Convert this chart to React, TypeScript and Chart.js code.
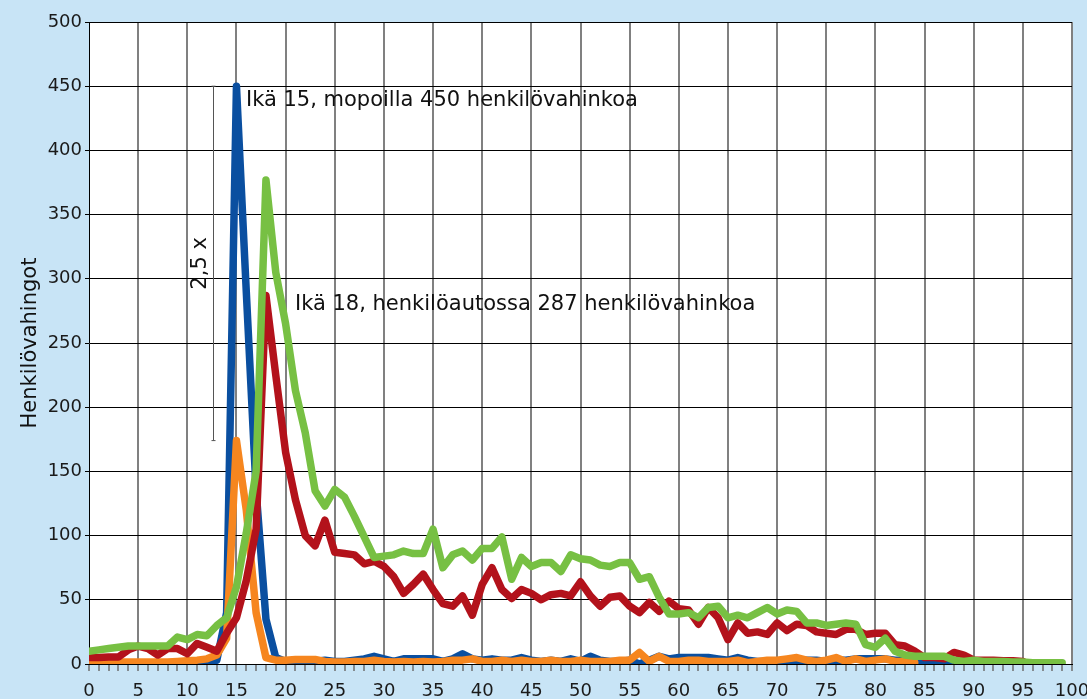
import React, { useEffect, useRef } from "react";
import { Chart, registerables } from "chart.js";

Chart.register(...registerables);

// Age categories (x values)
const ages = [
  0, 1, 2, 3, 4, 5, 6, 7, 8, 9, 10, 11, 12, 13, 14, 15, 16, 17, 18, 19,
  20, 21, 22, 23, 24, 25, 26, 27, 28, 29, 30, 31, 32, 33, 34, 35, 36, 37, 38, 39,
  40, 41, 42, 43, 44, 45, 46, 47, 48, 49, 50, 51, 52, 53, 54, 55, 56, 57, 58, 59,
  60, 61, 62, 63, 64, 65, 66, 67, 68, 69, 70, 71, 72, 73, 74, 75, 76, 77, 78, 79,
  80, 81, 82, 83, 84, 85, 86, 87, 88, 89, 90, 91, 92, 93, 94, 95, 96, 97, 98, 99,
];

// Series values (henkilövahingot by age)
const mopo = [
  0, 0, 0, 0, 0, 0, 0, 0, 0, 0, 0, 0, 0, 3, 40, 450, 290, 135, 35, 5,
  2, 2, 2, 2, 3, 2, 2, 3, 4, 6, 4, 2, 4, 4, 4, 4, 2, 4, 8, 4,
  3, 4, 3, 3, 5, 3, 2, 3, 2, 4, 2, 6, 3, 2, 2, 3, 0, 3, 6, 4,
  5, 5, 5, 5, 4, 3, 5, 3, 2, 2, 2, 3, 2, 3, 3, 2, 3, 3, 4, 4,
  4, 4, 3, 3, 3, 3, 2, 2, 1, 1, 1, null, null, null, null, null, null, null, null, null,
];

const kevytMp = [
  1.5, 1.5, 1.5, 1.5, 1.5, 1.5, 1.5, 1.5, 1.5, 2, 2.5, 3, 4, 7, 20, 174, 120, 40, 5, 3,
  3, 3.5, 3.5, 3.5, 2, 1.5, 1.5, 2, 2, 3, 2, 1.5, 2, 1.5, 2, 1.5, 2, 3, 3, 4,
  2, 2, 3, 2, 3, 2, 2, 3, 2, 2, 3, 2, 2, 2, 3, 3, 9, 2, 6, 2,
  2, 3, 3, 2, 2, 2, 3, 1, 2, 3, 3, 4, 5, 3, 2, 3, 5, 2, 4, 2,
  3, 4, 2, 2, 1, null, null, null, null, null, null, null, null, null, null, null, null, null, null, null,
];

const henkiloauto = [
  5, 5, 5.5, 5.5, 11, 14, 12, 7, 12, 12, 8, 16, 13, 10, 24, 36, 65, 105, 287, 225,
  165, 128, 100, 92, 112, 87, 86, 85, 78, 80, 76, 68, 55, 62, 70, 58, 47, 45, 53, 38,
  62, 75, 58, 51, 58, 55, 50, 54, 55, 53, 64, 53, 45, 52, 53, 45, 40, 48, 41, 49,
  43, 42, 31, 44, 36, 19, 32, 24, 25, 23, 32, 26, 31, 30, 25, 24, 23, 27, 27, 23,
  24, 24, 15, 14, 10, 5, 5, 4, 9, 7, 3, 3, 3, 2.5, 2.5, 2, null, null, null, null,
];

const kaikki = [
  10, 11, 12, 13, 14, 14, 14, 14, 14, 21, 19, 23, 22, 30, 36, 60, 102, 150, 377, 305,
  265, 213, 180, 135, 123, 136, 130, 115, 99, 83, 84, 85, 88, 86, 86, 105, 75, 85, 88, 81,
  90, 90, 99, 66, 83, 76, 79, 79, 72, 85, 82, 81, 77, 76, 79, 79, 66, 68, 52, 39,
  39, 40, 36, 44, 45, 36, 38, 36, 40, 44, 39, 42, 41, 32, 32, 30, 31, 32, 31, 15,
  13, 20, 10, 7, 6, 6, 6, 6, 3, 2, 3, 2, 2, 2, 1.5, 1.5, 1, 1, 1, 1,
];

const yTitle = "Henkilövahingot";
const note1 = "Ikä 15, mopoilla 450 henkilövahinkoa";
const note2 = "Ikä 18, henkilöautossa 287 henkilövahinkoa";
const ratioText = "2,5 x";

const FONT = "'DejaVu Sans', Verdana, sans-serif";

const bgPlugin = {
  id: "bgPlugin",
  beforeDraw(chart: any) {
    const { ctx, chartArea: a, width, height } = chart;
    ctx.save();
    ctx.fillStyle = "#c8e4f6";
    ctx.fillRect(0, 0, width, height);
    ctx.fillStyle = "#ffffff";
    ctx.fillRect(a.left, a.top, a.right - a.left, a.bottom - a.top);
    ctx.restore();
  },
};

const notesPlugin = {
  id: "notesPlugin",
  afterDraw(chart: any) {
    const { ctx } = chart;
    const xs = chart.scales.x;
    const ys = chart.scales.y;
    ctx.save();
    // y-axis title
    ctx.fillStyle = "#111";
    ctx.font = `21px ${FONT}`;
    ctx.textAlign = "center";
    ctx.textBaseline = "middle";
    ctx.save();
    ctx.translate(31, (chart.chartArea.top + chart.chartArea.bottom) / 2);
    ctx.rotate(-Math.PI / 2);
    ctx.fillText(yTitle, 0, 0);
    ctx.restore();

    // ratio bracket line
    const lx = Math.round(xs.getPixelForValue(12.6)) + 0.5;
    const ly1 = ys.getPixelForValue(450);
    const ly2 = ys.getPixelForValue(174);
    ctx.strokeStyle = "#555";
    ctx.lineWidth = 1;
    ctx.beginPath();
    ctx.moveTo(lx, ly1);
    ctx.lineTo(lx, ly2);
    ctx.moveTo(lx - 2, ly1);
    ctx.lineTo(lx + 2, ly1);
    ctx.moveTo(lx - 2, ly2);
    ctx.lineTo(lx + 2, ly2);
    ctx.stroke();

    // ratio text
    ctx.save();
    ctx.translate(lx - 13, ys.getPixelForValue(312));
    ctx.rotate(-Math.PI / 2);
    ctx.textAlign = "center";
    ctx.textBaseline = "middle";
    ctx.fillText(ratioText, 0, 0);
    ctx.restore();

    // notes
    ctx.textAlign = "left";
    ctx.textBaseline = "alphabetic";
    ctx.fillText(note1, xs.getPixelForValue(15) + 9.5, ys.getPixelForValue(450) + 20);
    ctx.fillText(note2, xs.getPixelForValue(18) + 29, ys.getPixelForValue(287) + 14.5);
    ctx.restore();
  },
};

export default function App() {
  const ref = useRef<HTMLCanvasElement>(null);

  useEffect(() => {
    document.body.style.margin = "0";
    const canvas = ref.current!;
    const common = {
      pointRadius: 0,
      pointHoverRadius: 0,
      borderWidth: 7.5,
      borderJoinStyle: "round" as const,
      borderCapStyle: "round" as const,
      tension: 0,
      fill: false,
      spanGaps: false,
      clip: 0,
    };
    const chart = new Chart(canvas, {
      type: "line",
      data: {
        labels: ages,
        datasets: [
          { ...common, label: "Kaikki", data: kaikki, borderColor: "#77c043", order: 0 },
          { ...common, label: "Henkilöauto", data: henkiloauto, borderColor: "#b3121b", order: 1 },
          { ...common, label: "Kevytmoottoripyörä", data: kevytMp, borderColor: "#f6861f", order: 2 },
          { ...common, label: "Mopo", data: mopo, borderColor: "#0a4fa0", order: 3 },
        ],
      },
      options: {
        responsive: false,
        animation: false,
        layout: { padding: { top: 22, right: 15, left: 0, bottom: 0 } },
        plugins: {
          legend: { display: false },
          tooltip: { enabled: false },
          title: { display: false },
        },
        scales: {
          x: {
            type: "linear",
            min: 0,
            max: 100,
            ticks: {
              stepSize: 1,
              maxTicksLimit: 200,
              autoSkip: false,
              maxRotation: 0,
              minRotation: 0,
              padding: 10,
              color: "#1a1a1a",
              font: { family: FONT, size: 18 },
              callback: (v: any) => (Number(v) % 5 === 0 ? String(v) : ""),
            },
            grid: {
              color: (c: any) =>
                c.tick && c.tick.value % 5 === 0 && c.tick.value !== 0 ? "#808080" : "rgba(0,0,0,0)",
              lineWidth: 2,
              drawTicks: true,
              tickLength: 7,
              tickColor: "#6e6e6e",
              tickWidth: 1.5,
            },
            border: { display: true, color: "#000", width: 1 },
            afterFit: (s: any) => {
              s.height = 35;
              s.paddingLeft = 0;
              s.paddingRight = 0;
            },
          },
          y: {
            min: 0,
            max: 500,
            ticks: {
              stepSize: 50,
              padding: 3,
              color: "#1a1a1a",
              font: { family: FONT, size: 18 },
            },
            grid: {
              color: "#000",
              lineWidth: 1,
              tickLength: 4,
              tickColor: "#000",
            },
            border: { display: true, color: "#000", width: 1 },
            afterFit: (s: any) => {
              s.width = 89;
              s.paddingTop = 0;
              s.paddingBottom = 0;
            },
          },
        },
      },
      plugins: [bgPlugin, notesPlugin],
    } as any);
    return () => chart.destroy();
  }, []);

  return (
    <div style={{ position: "fixed", left: 0, top: 0, width: 1087, height: 699 }}>
      <canvas ref={ref} width={1087} height={699} style={{ display: "block", width: 1087, height: 699 }} />
    </div>
  );
}
